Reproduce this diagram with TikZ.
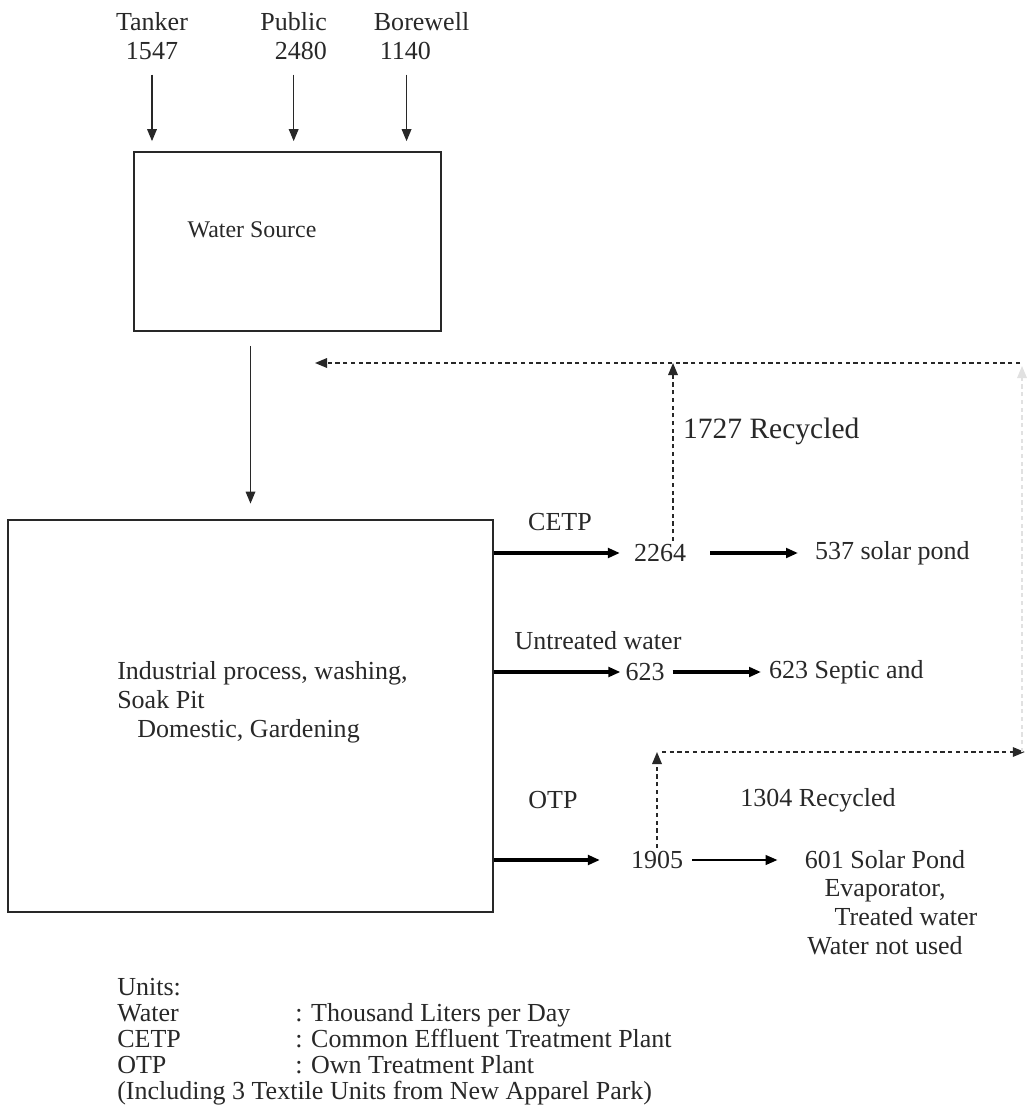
\documentclass[tikz,border=0pt]{standalone}
\usepackage{fontspec}
\setmainfont{Liberation Serif}
\usetikzlibrary{arrows.meta, positioning, calc}
\definecolor{inkgray}{RGB}{40, 40, 40}
\definecolor{fadegray}{RGB}{225, 225, 225}

\begin{document}
\begin{tikzpicture}[>={Triangle[length=0.3cm, width=0.24cm]}, font=\fontsize{18.5}{20.5}\selectfont, text=inkgray,
  box/.style={draw=inkgray, rectangle, inner sep=0pt},
  lbl/.style={inner sep=2pt},
  flow/.style={->, line width=2.4pt, draw=black},
  feed/.style={->, line width=1pt, draw=inkgray},
  recyc/.style={->, line width=1pt, dash pattern=on 3pt off 2.5pt, draw=inkgray}]
  \useasboundingbox (0,0) rectangle (25.7,-27.8);
  % sources
  \node[lbl, align=center] (tanker) at (3.8,-0.9) {Tanker\\1547};
  \node[lbl, align=right, anchor=east] (public) at (8.25,-0.9) {Public\\2480};
  \node[lbl, align=left, anchor=west] (borewell) at (9.27,-0.9) {Borewell\\\hspace*{0.15cm}1140};
  \node[box, line width=1.2pt, minimum width=7.675cm, minimum height=4.475cm] (src) at (7.1875,-6.0375) {};
  \node[font=\fontsize{17}{20}\selectfont] (srclabel) at (6.3,-5.75) {Water Source};
  \draw[feed, shorten <=0.3cm, shorten >=0.25cm] (tanker.south) -- (tanker.south |- src.north);
  \draw[feed, shorten <=0.3cm, shorten >=0.25cm] (public.south) -- (public.south |- src.north);
  \draw[feed, shorten <=0.3cm, shorten >=0.25cm] ([xshift=-0.375cm]borewell.south) -- ([xshift=-0.375cm]borewell.south |- src.north);
  % usage
  \node[box, line width=2pt, minimum width=12.125cm, minimum height=9.8cm] (proc) at (6.2625,-17.9) {};
  \node[align=left, anchor=west, inner sep=0pt] (usage) at (2.925,-17.55) {Industrial process, washing,\\Soak Pit\\\hspace*{0.5cm}Domestic, Gardening};
  \draw[feed, shorten <=0.35cm, shorten >=0.375cm] (proc.north |- src.south) -- (proc.north);
  % CETP branch
  \node[lbl] (cetp) at (14.0,-13.05) {CETP};
  \node[lbl] (c2264) at (16.5,-13.825) {2264};
  \node[lbl, anchor=west] (pond537) at (20.3,-13.825) {537 solar pond};
  \node[lbl, anchor=west, font=\fontsize{21}{24}\selectfont] (rec1727) at (17.0,-10.775) {1727 Recycled};
  \coordinate (up1727) at (16.825,-9.075);
  \coordinate (topright) at (25.5,-9.075);
  \coordinate (ret) at (7.875,-9.075);
  \draw[flow, shorten >=0.275cm] (proc.east |- c2264) -- (c2264);
  \draw[flow, shorten <=0.525cm, shorten >=0.35cm] (c2264) -- (pond537);
  \draw[recyc] (up1727 |- c2264.north) -- (up1727);
  \draw[recyc] (topright) -- (ret);
  % untreated branch
  \node[lbl] (untreated) at (14.95,-16.025) {Untreated water};
  \node[lbl] (u623) at (16.125,-16.8) {623};
  \node[lbl, anchor=west] (septic) at (19.15,-16.8) {623 Septic and};
  \draw[flow, shorten >=0.05cm] (proc.east |- u623) -- (u623);
  \draw[flow, shorten <=0.125cm, shorten >=0.125cm] (u623) -- (septic);
  % OTP branch
  \node[lbl] (otp) at (13.825,-20.0) {OTP};
  \node[lbl] (o1905) at (16.425,-21.5) {1905};
  \node[lbl, align=center, anchor=north] (pond601) at (22.125,-21.175) {601 Solar Pond\\Evaporator,\\\hspace*{1.05cm}Treated water\\Water not used};
  \node[lbl] (rec1304) at (20.45,-20.0) {1304 Recycled};
  \coordinate (turn1304) at (16.425,-18.8);
  \coordinate (dash1304) at (16.55,-18.8);
  \coordinate (rightlow) at (25.62,-18.8);
  \coordinate (rightup) at (25.55,-9.15);
  \draw[flow, shorten >=0.7cm] (proc.east |- o1905) -- (o1905);
  \draw[flow, line width=1.7pt, shorten <=0.15cm, shorten >=0.3cm] (o1905) -- (o1905 -| pond601.west);
  \draw[recyc] (o1905.north) -- (turn1304);
  \draw[recyc] (dash1304) -- (rightlow);
  \draw[recyc, draw=fadegray] (rightlow -| rightup) -- (rightup);
  % units
  \node[anchor=base west, inner sep=0pt] (units) at (2.925,-24.875) {Units:};
  \node[anchor=base west, inner sep=0pt] (kwater) at ([yshift=-0.65cm]units.base west) {Water};
  \node[anchor=base west, inner sep=0pt] (kcetp) at ([yshift=-0.65cm]kwater.base west) {CETP};
  \node[anchor=base west, inner sep=0pt] (kotp) at ([yshift=-0.65cm]kcetp.base west) {OTP};
  \node[anchor=base west, inner sep=0pt] (note) at ([yshift=-0.65cm]kotp.base west) {(Including 3 Textile Units from New Apparel Park)};
  \node[anchor=base west, inner sep=0pt] (dwater) at ([xshift=4.45cm]kwater.base west) {: Thousand Liters per Day};
  \node[anchor=base west, inner sep=0pt] (dcetp) at ([xshift=4.45cm]kcetp.base west) {: Common Effluent Treatment Plant};
  \node[anchor=base west, inner sep=0pt] (dotp) at ([xshift=4.45cm]kotp.base west) {: Own Treatment Plant};
\end{tikzpicture}
\end{document}
